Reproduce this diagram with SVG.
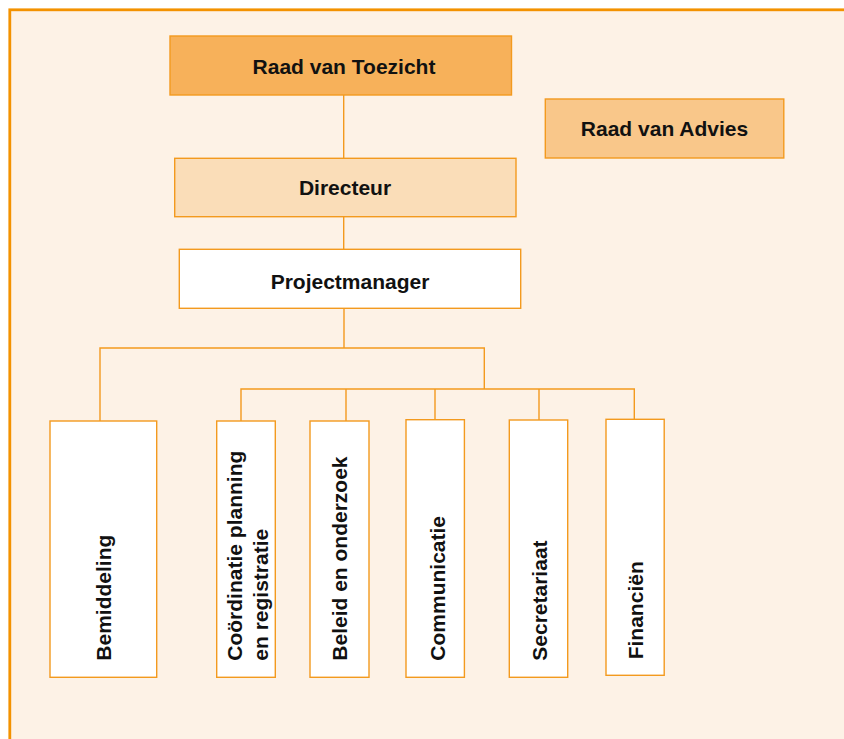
<svg xmlns="http://www.w3.org/2000/svg" width="844" height="739" viewBox="0 0 844 739">
<style>
.box{stroke:#F39A1E;stroke-width:1.4}
.t{font-family:"Liberation Sans",Arial,Helvetica,sans-serif;font-weight:bold;font-size:21px;fill:#111}
.c{text-anchor:middle}
.conn{fill:none;stroke:#F39A1E;stroke-width:1.4}
</style>
<rect x="0" y="0" width="844" height="739" fill="#ffffff"/>
<rect id="frame" x="9.8" y="9.8" width="850" height="750" fill="#FDF2E6" stroke="#F39200" stroke-width="2.8"/>
<g id="connectors" class="conn">
<path d="M343.7 95V158.3M343.7 216.7V249.3M344 308.3V348M100 421V348H484.3V389M241 421V389H634.3V419.3M346 389V421M435 389V419.7M539 389V420"/>
</g>
<g id="raad-van-toezicht">
<rect class="box" x="170" y="36" width="341.5" height="59" fill="#F7B15A"/>
<text class="t c" x="344" y="74">Raad van Toezicht</text>
</g>
<g id="raad-van-advies">
<rect class="box" x="545.3" y="99" width="238.5" height="59" fill="#F9C78A"/>
<text class="t c" x="664.5" y="135.7">Raad van Advies</text>
</g>
<g id="directeur">
<rect class="box" x="174.7" y="158.3" width="341.3" height="58.4" fill="#FADDB8"/>
<text class="t c" x="345" y="195">Directeur</text>
</g>
<g id="projectmanager">
<rect class="box" x="179.3" y="249.3" width="341.4" height="59" fill="#ffffff"/>
<text class="t c" x="350" y="289.3">Projectmanager</text>
</g>
<g id="bemiddeling">
<rect class="box" x="50" y="421" width="106.7" height="256.3" fill="#ffffff"/>
<text class="t" transform="translate(111,660.7) rotate(-90)">Bemiddeling</text>
</g>
<g id="coordinatie">
<rect class="box" x="216.7" y="421" width="58.6" height="256.3" fill="#ffffff"/>
<text class="t" transform="translate(241.7,660.7) rotate(-90)">Coördinatie planning</text>
<text class="t" transform="translate(267.7,660.7) rotate(-90)">en registratie</text>
</g>
<g id="beleid">
<rect class="box" x="310" y="421" width="59" height="256.3" fill="#ffffff"/>
<text class="t" transform="translate(346.7,660.7) rotate(-90)">Beleid en onderzoek</text>
</g>
<g id="communicatie">
<rect class="box" x="406" y="419.7" width="58.4" height="257.6" fill="#ffffff"/>
<text class="t" transform="translate(445,660.7) rotate(-90)">Communicatie</text>
</g>
<g id="secretariaat">
<rect class="box" x="509.3" y="420" width="58.4" height="257.3" fill="#ffffff"/>
<text class="t" transform="translate(546.7,660.7) rotate(-90)">Secretariaat</text>
</g>
<g id="financien">
<rect class="box" x="606" y="419.3" width="58.2" height="256" fill="#ffffff"/>
<text class="t" transform="translate(643.3,659.3) rotate(-90)">Financiën</text>
</g>
</svg>
